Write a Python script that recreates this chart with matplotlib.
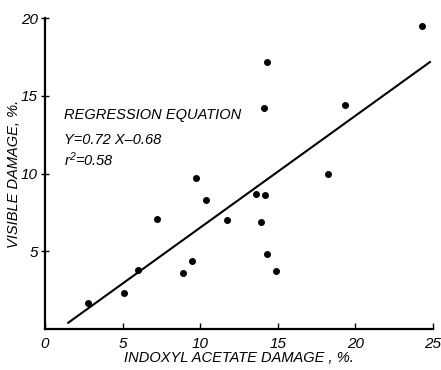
import matplotlib.pyplot as plt

# indoxyl acetate damage (%) vs visible damage (%)
indoxyl = [2.8, 5.1, 6.0, 7.2, 8.9, 9.5, 9.7, 10.4, 11.7, 13.6, 13.9, 14.1, 14.2,
           14.3, 14.3, 14.9, 18.2, 19.3, 24.3]
visible = [1.7, 2.3, 3.8, 7.1, 3.6, 4.4, 9.7, 8.3, 7.0, 8.7, 6.9, 14.2, 8.6,
           17.2, 4.8, 3.7, 10.0, 14.4, 19.5]

slope, intercept = 0.72, -0.68
line_x = [1.5, 24.8]
line_y = [slope * x + intercept for x in line_x]

xticks = [0, 5, 10, 15, 20, 25]
yticks = [5, 10, 15, 20]

plt.rcParams['font.family'] = ['Liberation Sans', 'DejaVu Sans']
plt.rcParams['font.style'] = 'italic'
plt.rcParams['mathtext.fontset'] = 'custom'
plt.rcParams['mathtext.it'] = 'Liberation Sans:italic'
plt.rcParams['mathtext.rm'] = 'Liberation Sans:italic'

fig = plt.figure(figsize=(4.41, 3.70), dpi=100)
ax = fig.add_axes([0.102, 0.111, 0.880, 0.840])

ax.scatter(indoxyl, visible, s=16, color='black', zorder=3)
ax.plot(line_x, line_y, color='black', lw=1.5)

ax.set_xlim(0, 25)
ax.set_ylim(0, 20)
ax.set_xticks(xticks)
ax.set_yticks(yticks)
ax.set_xticklabels([str(t) for t in xticks], fontsize=11, style='italic')
ax.set_yticklabels([str(t) for t in yticks], fontsize=11, style='italic')
ax.tick_params(axis='x', direction='in', length=4, width=1, pad=6)
ax.tick_params(axis='y', direction='inout', length=6, width=1, pad=2)

for s in ['top', 'right']:
    ax.spines[s].set_visible(False)
for s in ['left', 'bottom']:
    ax.spines[s].set_linewidth(1.6)

ax.set_xlabel('INDOXYL ACETATE DAMAGE , %.', fontsize=10.5, style='italic', labelpad=0)
ax.set_ylabel('VISIBLE DAMAGE, %.', fontsize=10.5, style='italic', labelpad=0)

ax.text(1.2, 13.5, 'REGRESSION EQUATION', fontsize=10.5, style='italic')
ax.text(1.2, 11.9, 'Y=0.72 X\u20130.68', fontsize=10.5, style='italic')
ax.text(1.2, 10.5, 'r$^2$=0.58', fontsize=10.5, style='italic')

fig.savefig('out.png', dpi=100)
